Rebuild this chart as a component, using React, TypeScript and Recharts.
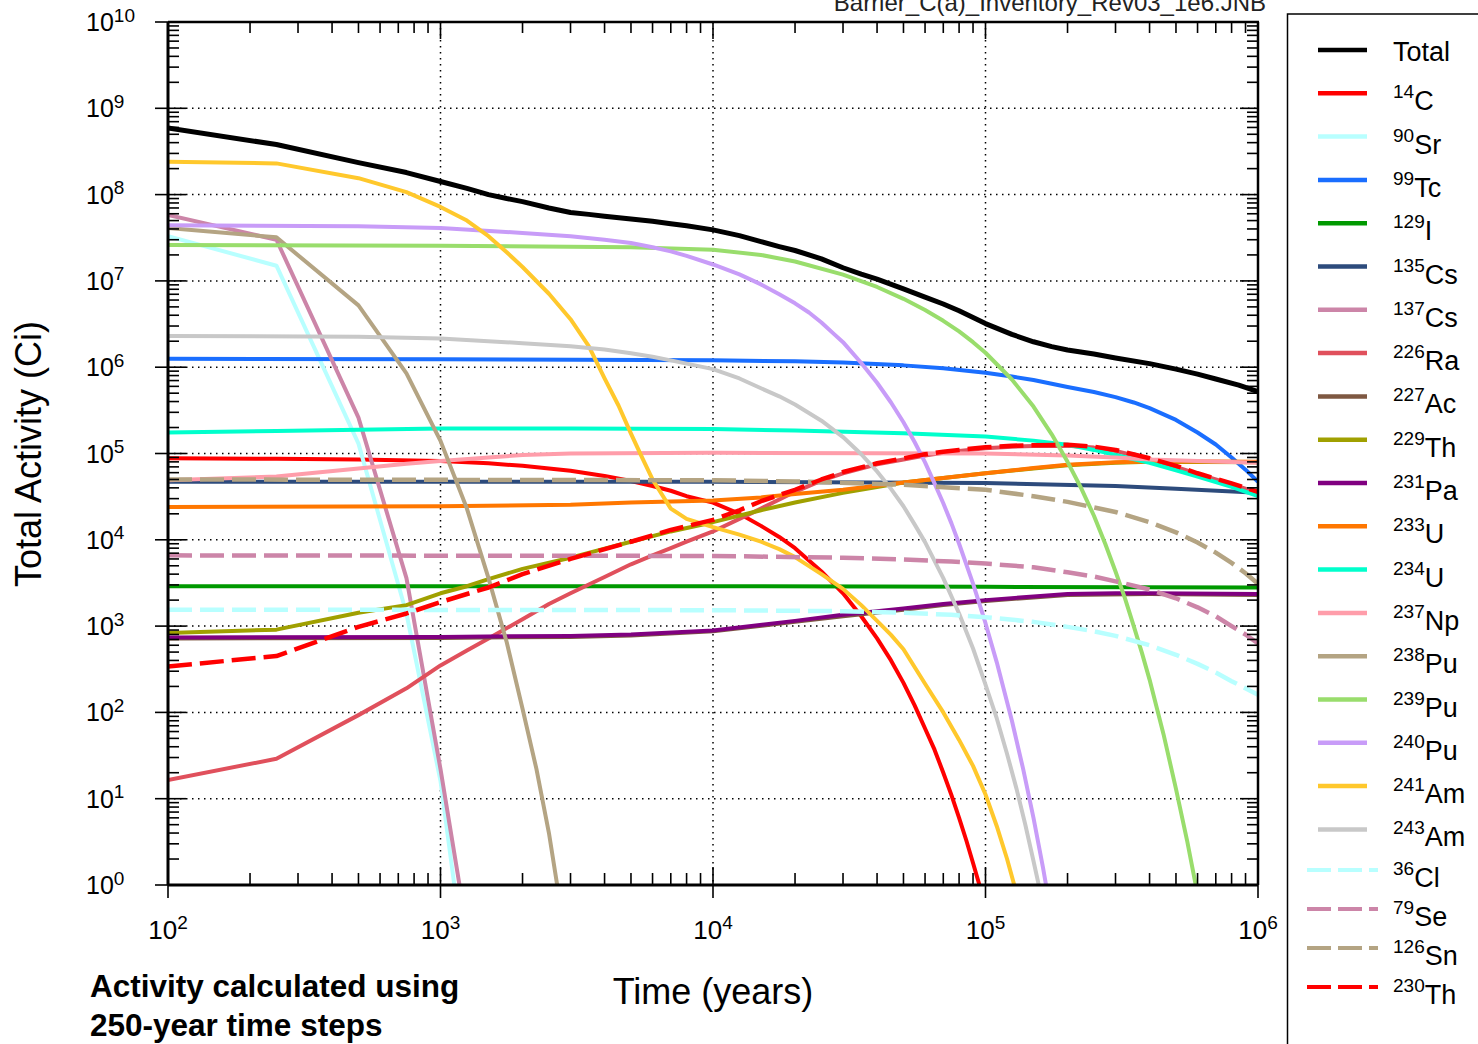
import React from "react";
import { LineChart, Line, XAxis, YAxis, CartesianGrid } from "recharts";

type Pt = [number, number];

// time (years), activity (Ci)
const total: Pt[] = [[100, 5.9e8], [250, 3.8e8], [500, 2.35e8], [750, 1.8e8], [1000, 1.42e8], [1250, 1.18e8], [1500, 1.0e8], [1750, 9.0e7], [2000, 8.3e7], [2500, 7.0e7], [3000, 6.2e7], [3500, 5.9e7], [4000, 5.6e7], [5000, 5.2e7], [6000, 4.9e7], [7000, 4.6e7], [8000, 4.35e7], [10000, 3.9e7], [12500, 3.35e7], [15000, 2.85e7], [17500, 2.5e7], [20000, 2.25e7], [25000, 1.8e7], [30000, 1.42e7], [35000, 1.2e7], [40000, 1.05e7], [50000, 8.1e6], [60000, 6.5e6], [70000, 5.4e6], [80000, 4.5e6], [100000, 3.2e6], [125000, 2.4e6], [150000, 1.97e6], [175000, 1.73e6], [200000, 1.58e6], [250000, 1.42e6], [300000, 1.28e6], [400000, 1.1e6], [500000, 9.5e5], [600000, 8.3e5], [700000, 7.3e5], [850000, 6.2e5], [1000000, 5.2e5]];
const c14: Pt[] = [[100, 8.8e4], [250, 8.7e4], [500, 8.5e4], [1000, 8.2e4], [1500, 7.7e4], [2000, 7.2e4], [3000, 6.3e4], [4000, 5.5e4], [5000, 4.8e4], [6000, 4.2e4], [7000, 3.7e4], [8000, 3.2e4], [10000, 2.7e4], [12500, 2.0e4], [15000, 1.45e4], [17500, 1.08e4], [20000, 8.0e3], [25000, 4.3e3], [30000, 2.4e3], [35000, 1.3e3], [40000, 720], [45000, 400], [50000, 220], [55000, 120], [60000, 65], [65000, 37], [70000, 20], [75000, 11], [80000, 6], [85000, 3.3], [90000, 1.8], [95000, 1.0], [100000, 0.55]];
const sr90: Pt[] = [[100, 3.3e7], [250, 1.5e7], [500, 1.3e5], [750, 1.4e3], [1000, 16], [1250, 0.08]];
const tc99: Pt[] = [[100, 1.25e6], [1000, 1.24e6], [10000, 1.2e6], [20000, 1.17e6], [30000, 1.13e6], [50000, 1.05e6], [70000, 9.7e5], [100000, 8.6e5], [125000, 7.8e5], [150000, 7.1e5], [200000, 5.9e5], [250000, 5.15e5], [300000, 4.5e5], [350000, 3.9e5], [400000, 3.35e5], [500000, 2.45e5], [600000, 1.75e5], [700000, 1.27e5], [800000, 9.0e4], [900000, 6.5e4], [1000000, 4.7e4]];
const i129: Pt[] = [[100, 2.9e3], [10000, 2.9e3], [100000, 2.85e3], [1000000, 2.8e3]];
const cs135: Pt[] = [[100, 4.7e4], [10000, 4.7e4], [100000, 4.55e4], [300000, 4.2e4], [500000, 3.9e4], [1000000, 3.5e4]];
const cs137: Pt[] = [[100, 5.8e7], [250, 3.0e7], [500, 2.6e5], [750, 3.6e3], [1000, 22], [1250, 0.3]];
const ra226: Pt[] = [[100, 16.5], [250, 29], [500, 93], [750, 190], [1000, 350], [1250, 520], [1500, 720], [2000, 1.2e3], [2500, 1.8e3], [3000, 2.4e3], [4000, 3.7e3], [5000, 5.2e3], [6000, 6.6e3], [7000, 8.0e3], [8000, 9.5e3], [10000, 1.25e4], [12500, 1.75e4], [15000, 2.3e4], [20000, 3.6e4], [25000, 4.85e4], [30000, 5.9e4], [40000, 7.5e4], [50000, 8.5e4], [60000, 9.5e4], [70000, 1.02e5], [80000, 1.07e5], [100000, 1.15e5], [125000, 1.2e5], [150000, 1.22e5], [200000, 1.23e5], [250000, 1.17e5], [300000, 1.07e5], [400000, 8.6e4], [500000, 7.0e4], [600000, 5.8e4], [700000, 5.0e4], [800000, 4.4e4], [1000000, 3.5e4]];
const ac227: Pt[] = [[100, 720], [1000, 730], [3000, 750], [5000, 780], [10000, 870], [20000, 1.12e3], [30000, 1.3e3], [50000, 1.55e3], [70000, 1.75e3], [100000, 1.95e3], [150000, 2.15e3], [200000, 2.3e3], [400000, 2.35e3], [1000000, 2.3e3]];
const th229: Pt[] = [[100, 830], [250, 910], [500, 1.43e3], [750, 1.75e3], [1000, 2.4e3], [1250, 2.9e3], [1500, 3.5e3], [2000, 4.6e3], [3000, 6.2e3], [4000, 7.9e3], [5000, 9.5e3], [7000, 1.25e4], [10000, 1.6e4], [15000, 2.2e4], [20000, 2.7e4], [30000, 3.5e4], [50000, 4.6e4], [70000, 5.2e4], [100000, 5.9e4], [150000, 6.7e4], [200000, 7.3e4], [300000, 7.8e4], [400000, 8.0e4], [1000000, 7.9e4]];
const pa231: Pt[] = [[100, 740], [1000, 750], [3000, 770], [5000, 800], [10000, 890], [20000, 1.15e3], [30000, 1.35e3], [50000, 1.6e3], [70000, 1.8e3], [100000, 2.0e3], [150000, 2.2e3], [200000, 2.35e3], [300000, 2.4e3], [400000, 2.4e3], [1000000, 2.35e3]];
const u233: Pt[] = [[100, 2.4e4], [1000, 2.45e4], [3000, 2.55e4], [5000, 2.7e4], [10000, 2.85e4], [15000, 3.1e4], [20000, 3.4e4], [30000, 3.8e4], [50000, 4.6e4], [70000, 5.2e4], [100000, 5.9e4], [150000, 6.8e4], [200000, 7.4e4], [300000, 7.9e4], [400000, 8.1e4], [700000, 8.1e4], [1000000, 8.0e4]];
const u234: Pt[] = [[100, 1.75e5], [250, 1.82e5], [500, 1.88e5], [1000, 1.95e5], [3000, 1.95e5], [10000, 1.92e5], [20000, 1.85e5], [50000, 1.72e5], [100000, 1.57e5], [150000, 1.41e5], [200000, 1.26e5], [250000, 1.1e5], [300000, 9.6e4], [400000, 7.8e4], [500000, 6.4e4], [600000, 5.4e4], [800000, 4.1e4], [1000000, 3.2e4]];
const np237: Pt[] = [[100, 4.9e4], [250, 5.4e4], [500, 6.7e4], [750, 7.6e4], [1000, 8.2e4], [1500, 9.0e4], [2000, 9.6e4], [3000, 1.0e5], [10000, 1.02e5], [100000, 1.0e5], [200000, 9.5e4], [300000, 9.0e4], [400000, 8.5e4], [600000, 8.2e4], [1000000, 7.8e4]];
const pu238: Pt[] = [[100, 4.1e7], [250, 3.2e7], [500, 5.2e6], [750, 8.5e5], [1000, 1.4e5], [1250, 2.3e4], [1500, 3.6e3], [1750, 650], [2000, 110], [2250, 22], [2500, 4], [2750, 0.6]];
const pu239: Pt[] = [[100, 2.6e7], [1000, 2.55e7], [5000, 2.45e7], [10000, 2.3e7], [15000, 2.0e7], [20000, 1.68e7], [30000, 1.18e7], [40000, 8.5e6], [50000, 6.2e6], [60000, 4.6e6], [70000, 3.45e6], [80000, 2.6e6], [90000, 1.95e6], [100000, 1.47e6], [125000, 7.2e5], [150000, 3.5e5], [175000, 1.67e5], [200000, 8.0e4], [225000, 3.9e4], [250000, 1.9e4], [275000, 9.0e3], [300000, 4.3e3], [325000, 2.1e3], [350000, 1.0e3], [375000, 490], [400000, 240], [450000, 56], [500000, 13], [550000, 3.2], [600000, 0.78], [650000, 0.19]];
const pu240: Pt[] = [[100, 4.4e7], [500, 4.3e7], [1000, 4.1e7], [2000, 3.6e7], [3000, 3.3e7], [4000, 3.0e7], [5000, 2.75e7], [6000, 2.45e7], [7000, 2.2e7], [8000, 1.95e7], [10000, 1.55e7], [12500, 1.19e7], [15000, 9.1e6], [17500, 7.0e6], [20000, 5.5e6], [22500, 4.3e6], [25000, 3.3e6], [27500, 2.5e6], [30000, 1.95e6], [35000, 1.12e6], [40000, 6.6e5], [45000, 3.9e5], [50000, 2.3e5], [55000, 1.35e5], [60000, 7.9e4], [65000, 4.5e4], [70000, 2.65e4], [75000, 1.55e4], [80000, 9.0e3], [90000, 3.1e3], [100000, 1.08e3], [110000, 380], [125000, 80], [137500, 22], [150000, 6], [162500, 1.6], [175000, 0.42]];
const am241: Pt[] = [[100, 2.4e8], [250, 2.3e8], [500, 1.55e8], [750, 1.07e8], [1000, 7.2e7], [1250, 5.0e7], [1500, 3.3e7], [1750, 2.15e7], [2000, 1.45e7], [2500, 7.1e6], [3000, 3.6e6], [3500, 1.75e6], [4000, 7.4e5], [4500, 3.6e5], [5000, 1.7e5], [5500, 8.9e4], [6000, 5.0e4], [7000, 2.3e4], [8000, 1.75e4], [10000, 1.4e4], [12500, 1.15e4], [15000, 9.5e3], [17500, 7.8e3], [20000, 6.3e3], [25000, 4.0e3], [30000, 2.7e3], [35000, 1.75e3], [40000, 1.15e3], [45000, 790], [50000, 540], [60000, 215], [70000, 100], [80000, 48], [90000, 24], [100000, 11.2], [110000, 4.8], [120000, 2.0], [130000, 0.8], [140000, 0.3]];
const am243: Pt[] = [[100, 2.3e6], [500, 2.25e6], [1000, 2.15e6], [2000, 1.9e6], [3000, 1.75e6], [4000, 1.6e6], [5000, 1.45e6], [6000, 1.32e6], [7000, 1.2e6], [8000, 1.1e6], [10000, 9.5e5], [12500, 7.4e5], [15000, 5.7e5], [17500, 4.6e5], [20000, 3.7e5], [25000, 2.4e5], [30000, 1.55e5], [35000, 9.8e4], [40000, 6.2e4], [45000, 3.9e4], [50000, 2.45e4], [55000, 1.5e4], [60000, 9.4e3], [70000, 3.6e3], [80000, 1.4e3], [90000, 550], [100000, 210], [110000, 85], [120000, 33], [130000, 13], [140000, 5], [150000, 1.9], [160000, 0.75]];
const cl36: Pt[] = [[100, 1.55e3], [10000, 1.53e3], [30000, 1.49e3], [50000, 1.43e3], [75000, 1.35e3], [100000, 1.27e3], [150000, 1.12e3], [200000, 980], [250000, 870], [300000, 770], [400000, 600], [500000, 465], [600000, 365], [700000, 290], [800000, 230], [1000000, 160]];
const se79: Pt[] = [[100, 6.6e3], [10000, 6.5e3], [30000, 6.2e3], [50000, 5.9e3], [75000, 5.6e3], [100000, 5.3e3], [150000, 4.8e3], [200000, 4.2e3], [250000, 3.75e3], [300000, 3.3e3], [400000, 2.65e3], [500000, 2.1e3], [600000, 1.65e3], [700000, 1.3e3], [800000, 1.0e3], [900000, 800], [1000000, 630]];
const sn126: Pt[] = [[100, 5.0e4], [10000, 4.9e4], [20000, 4.75e4], [50000, 4.35e4], [100000, 3.8e4], [150000, 3.2e4], [200000, 2.75e4], [300000, 2.1e4], [400000, 1.6e4], [500000, 1.22e4], [600000, 9.3e3], [700000, 7.1e3], [800000, 5.4e3], [900000, 4.1e3], [1000000, 3.1e3]];
const th230: Pt[] = [[100, 340], [250, 450], [500, 980], [750, 1.4e3], [1000, 1.9e3], [1500, 2.8e3], [2000, 4.0e3], [3000, 6.0e3], [5000, 9.5e3], [7000, 1.3e4], [10000, 1.7e4], [12500, 2.2e4], [15000, 2.8e4], [17500, 3.3e4], [20000, 3.8e4], [25000, 5.0e4], [30000, 6.1e4], [40000, 7.7e4], [50000, 8.8e4], [60000, 9.8e4], [70000, 1.05e5], [80000, 1.1e5], [100000, 1.18e5], [125000, 1.23e5], [150000, 1.25e5], [200000, 1.26e5], [250000, 1.2e5], [300000, 1.1e5], [400000, 8.8e4], [500000, 7.2e4], [600000, 5.9e4], [700000, 5.1e4], [800000, 4.5e4], [1000000, 3.6e4]];

const xMajor = [1e2, 1e3, 1e4, 1e5, 1e6];
const yMajor = [1, 1e1, 1e2, 1e3, 1e4, 1e5, 1e6, 1e7, 1e8, 1e9, 1e10];

type Series = { sup: string; el: string; color: string; data: Pt[]; dashed?: boolean; width?: number };

const series: Series[] = [
  { sup: "", el: "Total", color: "#000000", data: total, width: 5 },
  { sup: "14", el: "C", color: "#ff0000", data: c14 },
  { sup: "90", el: "Sr", color: "#b8ffff", data: sr90 },
  { sup: "99", el: "Tc", color: "#1a6eff", data: tc99 },
  { sup: "129", el: "I", color: "#009900", data: i129 },
  { sup: "135", el: "Cs", color: "#2d4b7c", data: cs135 },
  { sup: "137", el: "Cs", color: "#cc85a8", data: cs137 },
  { sup: "226", el: "Ra", color: "#e0505c", data: ra226 },
  { sup: "227", el: "Ac", color: "#7e5842", data: ac227 },
  { sup: "229", el: "Th", color: "#a0a000", data: th229 },
  { sup: "231", el: "Pa", color: "#800080", data: pa231 },
  { sup: "233", el: "U", color: "#ff7700", data: u233 },
  { sup: "234", el: "U", color: "#00ffcc", data: u234 },
  { sup: "237", el: "Np", color: "#ff9daa", data: np237 },
  { sup: "238", el: "Pu", color: "#b4a483", data: pu238 },
  { sup: "239", el: "Pu", color: "#99dd6c", data: pu239 },
  { sup: "240", el: "Pu", color: "#c89cf8", data: pu240 },
  { sup: "241", el: "Am", color: "#ffc82c", data: am241 },
  { sup: "243", el: "Am", color: "#c8c8c8", data: am243 },
  { sup: "36", el: "Cl", color: "#b8ffff", data: cl36, dashed: true },
  { sup: "79", el: "Se", color: "#cc85a8", data: se79, dashed: true },
  { sup: "126", el: "Sn", color: "#b4a483", data: sn126, dashed: true },
  { sup: "230", el: "Th", color: "#ff0000", data: th230, dashed: true },
];

const W = 1478;
const H = 1044;
const PLOT = { left: 168, right: 1258, top: 22, bottom: 885 };
const FONT = "'Liberation Sans', Arial, Helvetica, sans-serif";

const minors = (majors: number[]) =>
  majors.slice(0, -1).flatMap((m) => [2, 3, 4, 5, 6, 7, 8, 9].map((k) => k * m));
const xTicks = [...xMajor, ...minors(xMajor)].sort((a, b) => a - b);
const yTicks = [...yMajor, ...minors(yMajor)].sort((a, b) => a - b);

const isMajor = (list: number[], v: number) => list.some((m) => Math.abs(m - v) / m < 1e-9);

function XTick(props: any) {
  const { x, payload } = props;
  const v = payload.value;
  const major = isMajor(xMajor, v);
  const exp = Math.round(Math.log10(v));
  const b = PLOT.bottom;
  const t = PLOT.top;
  return (
    <g>
      <line x1={x} x2={x} y1={b} y2={b - (major ? 18 : 12)} stroke="#000" strokeWidth={1.6} />
      {major && <line x1={x} x2={x} y1={b} y2={b + 13} stroke="#000" strokeWidth={1.6} />}
      <line x1={x} x2={x} y1={t} y2={t + (major ? 17 : 11)} stroke="#000" strokeWidth={1.6} />
      {major && (
        <text x={x} y={939} textAnchor="middle" fontSize={26} fill="#000" fontFamily={FONT}>
          10<tspan dy={-10} fontSize={19}>{exp}</tspan>
        </text>
      )}
    </g>
  );
}

function YTick(props: any) {
  const { y, payload } = props;
  const v = payload.value;
  const major = isMajor(yMajor, v);
  const exp = Math.round(Math.log10(v));
  const l = PLOT.left;
  const r = PLOT.right;
  return (
    <g>
      <line x1={l} x2={l + (major ? 18 : 11)} y1={y} y2={y} stroke="#000" strokeWidth={1.6} />
      {major && <line x1={l - 13} x2={l} y1={y} y2={y} stroke="#000" strokeWidth={1.6} />}
      <line x1={r} x2={r - (major ? 18 : 11)} y1={y} y2={y} stroke="#000" strokeWidth={1.6} />
      {major && (
        <text x={86} y={y + 9} fontSize={25} fill="#000" fontFamily={FONT}>
          10<tspan dy={-9.5} fontSize={19}>{exp}</tspan>
        </text>
      )}
    </g>
  );
}

const legendRowY = (i: number) => (i < 19 ? 50 + 43.3 * i : 870 + 39 * (i - 19));

function Overlay() {
  return (
    <svg width={W} height={H} style={{ position: "absolute", left: 0, top: 0, pointerEvents: "none", fontFamily: FONT }}>
      {/* frame: top and right */}
      <line x1={PLOT.left} x2={PLOT.right + 1} y1={PLOT.top} y2={PLOT.top} stroke="#000" strokeWidth={2.5} />
      <line x1={PLOT.right} x2={PLOT.right} y1={PLOT.top} y2={PLOT.bottom} stroke="#000" strokeWidth={2.5} />

      <text x={1266} y={11} textAnchor="end" fontSize={24} fill="#222">
        Barrier_C(a)_Inventory_Rev03_1e6.JNB
      </text>

      <text transform="translate(41,454) rotate(-90)" textAnchor="middle" fontSize={36} fill="#000">
        Total Activity (Ci)
      </text>
      <text x={713} y={1004} textAnchor="middle" fontSize={36} fill="#000">
        Time (years)
      </text>
      <text x={90} y={997} fontSize={31.5} fontWeight="bold" fill="#000">
        Activity calculated using
      </text>
      <text x={90} y={1036} fontSize={31.5} fontWeight="bold" fill="#000">
        250-year time steps
      </text>

      {/* legend */}
      <rect x={1287.5} y={14} width={400} height={1100} fill="none" stroke="#000" strokeWidth={1.5} />
      {series.map((s, i) => {
        const y = legendRowY(i);
        return (
          <g key={i}>
            {s.dashed ? (
              <line x1={1307} x2={1378} y1={y} y2={y} stroke={s.color} strokeWidth={4} strokeDasharray="24 7" />
            ) : (
              <line x1={1318} x2={1367} y1={y} y2={y} stroke={s.color} strokeWidth={4.5} />
            )}
            {s.sup === "" ? (
              <text x={1393} y={y + 11} fontSize={27} fill="#000">
                {s.el}
              </text>
            ) : (
              <text x={1393} y={y + 17} fontSize={27} fill="#000">
                <tspan dy={-12} fontSize={19}>{s.sup}</tspan>
                <tspan dy={12}>{s.el}</tspan>
              </text>
            )}
          </g>
        );
      })}
    </svg>
  );
}

export default function App() {
  return (
    <div style={{ position: "absolute", left: 0, top: 0, width: W, height: H, background: "#fff" }}>
      <LineChart width={W} height={H} margin={{ top: PLOT.top, right: W - PLOT.right, bottom: 0, left: PLOT.left - 80 }}>
        <CartesianGrid
          stroke="#000"
          strokeWidth={1.5}
          strokeDasharray="1.5 4.5"
          horizontalValues={[1e1, 1e2, 1e3, 1e4, 1e5, 1e6, 1e7, 1e8, 1e9]}
          verticalValues={[1e3, 1e4, 1e5]}
        />
        <XAxis
          dataKey="t"
          type="number"
          scale="log"
          domain={[100, 1e6]}
          allowDataOverflow
          ticks={xTicks}
          interval={0}
          height={H - PLOT.bottom}
          tickLine={false}
          tickSize={0}
          tickMargin={0}
          axisLine={{ stroke: "#000", strokeWidth: 3 }}
          tick={<XTick />}
        />
        <YAxis
          type="number"
          scale="log"
          domain={[1, 1e10]}
          allowDataOverflow
          ticks={yTicks}
          interval={0}
          width={80}
          tickLine={false}
          tickSize={0}
          tickMargin={0}
          axisLine={{ stroke: "#000", strokeWidth: 3 }}
          tick={<YTick />}
        />
        {series.map((s, i) => (
          <Line
            key={i}
            data={s.data.map(([t, v]) => ({ t, v }))}
            dataKey="v"
            type="linear"
            stroke={s.color}
            strokeWidth={s.width ?? (s.dashed ? 4.5 : 4)}
            strokeDasharray={s.dashed ? "24 8" : undefined}
            strokeLinejoin="round"
            dot={false}
            activeDot={false}
            isAnimationActive={false}
          />
        ))}
      </LineChart>
      <Overlay />
    </div>
  );
}
